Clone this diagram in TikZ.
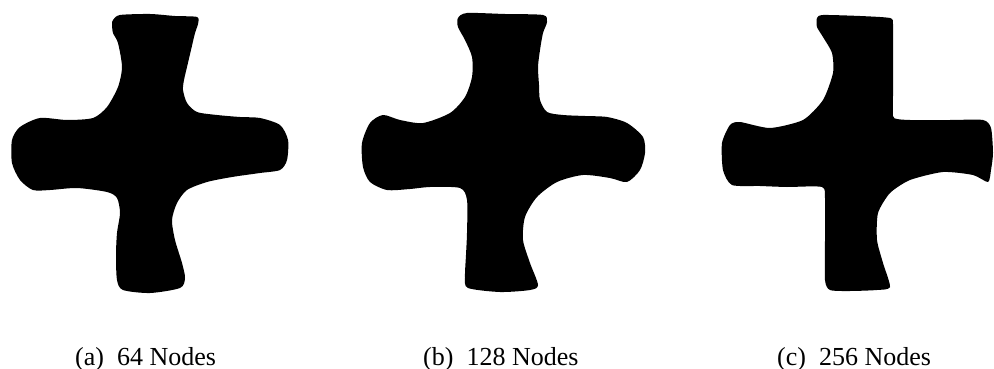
\documentclass[tikz,border=0pt]{standalone}
\usepackage{fontspec}
\setmainfont{Liberation Serif}
\begin{document}
\begin{tikzpicture}[x=1pt,y=-1pt,
  blob/.style={fill=black,draw=none},
  captext/.style={font=\fontsize{26}{30}\selectfont,inner sep=0pt,anchor=base west}]
\useasboundingbox (0,0) rectangle (994,369);
% (a) 64 Nodes
\fill[blob] plot[smooth cycle,tension=0.45] coordinates {
(113,20) (120,15) (150,14) (175,16) (197,17) (198,24) (195,33) (191,50) (187,67) (184,80) (183,90) (187,103) (197,112)
(217,115) (240,117) (260,118) (280,125) (288,140) (287,160) (280,170) (260,173) (232,177) (207,182) (187,190)
(177,203) (172,220) (175,240) (182,263) (185,278) (180,288) (150,293) (123,290) (117,280) (116,255) (117,233) (120,213)
(117,198) (107,192) (77,188) (50,190) (33,190) (20,180) (12,163) (12,140) (20,127) (40,118) (67,120) (93,118)
(107,107) (118,87) (122,67) (118,43) (113,33) (112,24)};
% (b) 128 Nodes
\fill[blob] plot[smooth cycle,tension=0.45] coordinates {
(458,18) (467,13) (505,14) (543,15) (547,22) (543,33) (540,50) (538,67) (539,85) (540,100) (547,112)
(563,115) (585,116) (607,117) (627,123) (643,137) (645,153) (640,170) (627,182) (610,178) (583,175) (557,182)
(537,197) (525,217) (523,240) (530,263) (538,285) (530,290) (500,292) (468,288) (465,277) (466,255) (467,233) (467,200)
(460,188) (430,187) (410,189) (387,190) (370,182) (363,167) (362,143) (370,123) (383,115) (400,120) (423,123)
(450,113) (465,97) (472,77) (472,57) (465,40) (458,27)};
% (c) 256 Nodes
\fill[blob] plot[smooth cycle,tension=0.4] coordinates {
(817,18) (823,15) (860,16) (890,18) (893,24) (893,45) (893,67) (893,95) (893,116) (897,119)
(910,120) (950,120) (983,120) (991,128) (993,153) (991,170) (988,182) (973,175) (943,172) (910,180)
(890,193) (878,213) (877,240) (883,263) (890,287) (877,290) (850,291) (830,290) (825,280) (825,240) (825,200)
(822,187) (787,187) (760,186) (732,185) (723,170) (722,143) (730,125) (740,122) (770,128) (803,120)
(823,100) (833,73) (832,53) (823,37) (817,27)};
\node[captext] (capA) at (75,365) {(a)\ \ 64 Nodes};
\node[captext] (capB) at (423,365) {(b)\ \ 128 Nodes};
\node[captext] (capC) at (777,365) {(c)\ \ 256 Nodes};
\end{tikzpicture}
\end{document}
